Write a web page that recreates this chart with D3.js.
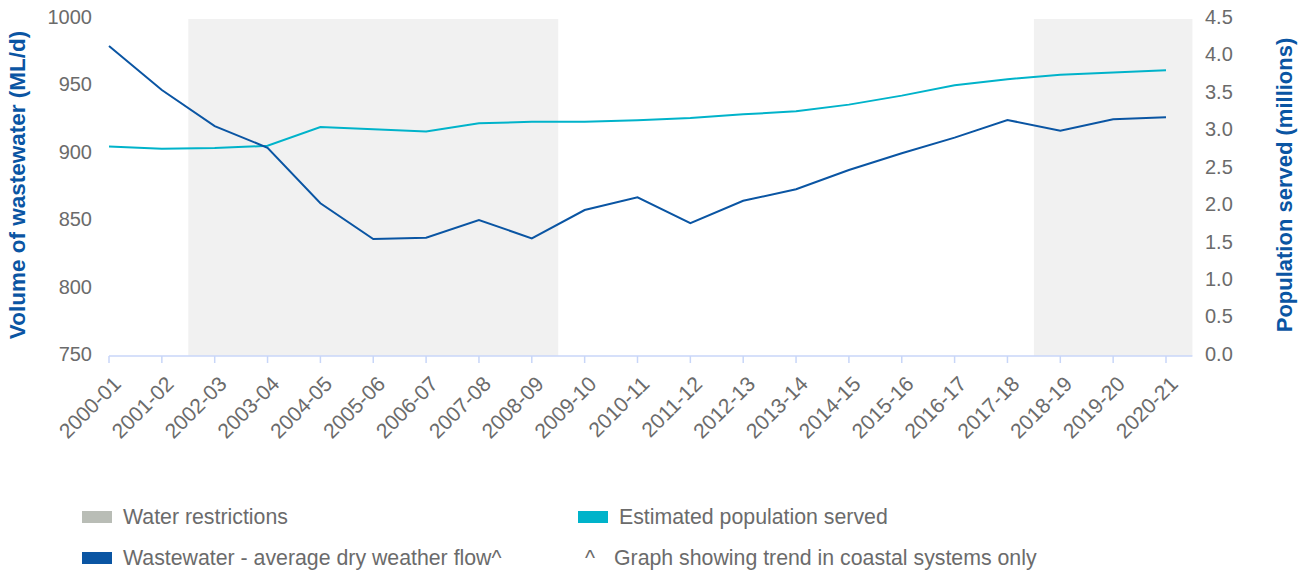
<!DOCTYPE html>
<html>
<head>
<meta charset="utf-8">
<script src="https://cdn.jsdelivr.net/npm/d3@7"></script>
<style>
  body { margin: 0; background: #fff; }
  text { font-family: "Liberation Sans", Arial, sans-serif; }
</style>
</head>
<body>
<div id="chart"></div>
<script>
// Financial years on the x axis
const years = ["2000-01", "2001-02", "2002-03", "2003-04", "2004-05", "2005-06", "2006-07",
  "2007-08", "2008-09", "2009-10", "2010-11", "2011-12", "2012-13", "2013-14", "2014-15",
  "2015-16", "2016-17", "2017-18", "2018-19", "2019-20", "2020-21"];

// Wastewater - average dry weather flow (ML/d)
const wastewater = [978.5, 945.8, 919.1, 903, 861.8, 835.3, 836.3, 849.4, 835.8, 856.8, 866.2,
  847, 863.7, 872.2, 886.5, 898.9, 910.5, 923.6, 915.7, 924.1, 925.6];

// Estimated population served (millions)
const population = [2.77, 2.74, 2.75, 2.78, 3.03, 3.00, 2.97, 3.08, 3.10, 3.10, 3.12, 3.15,
  3.20, 3.24, 3.33, 3.45, 3.59, 3.67, 3.73, 3.76, 3.79];

// Periods with water restrictions (first and last year of each)
const restrictions = [["2002-03", "2008-09"], ["2018-19", "2020-21"]];

const leftTicks = [750, 800, 850, 900, 950, 1000];
const rightTicks = [0, 0.5, 1, 1.5, 2, 2.5, 3, 3.5, 4, 4.5];

const width = 1306, height = 574;
const x0 = 109, step = (1166 - 109) / (years.length - 1);

const svg = d3.select("#chart").append("svg")
  .attr("width", width)
  .attr("height", height);

// Point scale for the categories
const x = d3.scalePoint()
  .domain(years)
  .range([x0, x0 + step * (years.length - 1)]);

const yLeft = d3.scaleLinear().domain([750, 1000]).range([354, 17]);
const yRight = d3.scaleLinear().domain([0, 4.5]).range([354, 17]);

// Shaded restriction bands
svg.selectAll(".band")
  .data(restrictions)
  .enter().append("rect")
  .attr("class", "band")
  .attr("x", d => x(d[0]) - step / 2)
  .attr("y", 19)
  .attr("width", d => x(d[1]) - x(d[0]) + step)
  .attr("height", 356 - 19)
  .attr("fill", "#f1f1f1");

// Bottom axis
const xAxis = svg.append("g")
  .attr("transform", "translate(0,356)");
xAxis.append("line")
  .attr("x1", x0).attr("x2", x(years[years.length - 1]) + step / 2)
  .attr("stroke", "#c8d6f8").attr("stroke-width", 1.5);
xAxis.selectAll(".tick")
  .data(years)
  .enter().append("line")
  .attr("x1", d => x(d)).attr("x2", d => x(d))
  .attr("y1", 0).attr("y2", 7)
  .attr("stroke", "#c8d6f8").attr("stroke-width", 1.5);
xAxis.selectAll(".xlabel")
  .data(years)
  .enter().append("text")
  .attr("class", "xlabel")
  .attr("transform", d => "translate(" + (x(d) + 8) + ",24) rotate(-45)")
  .attr("text-anchor", "end")
  .attr("dy", "0.35em")
  .attr("font-size", 21)
  .attr("fill", "#6b6b6b")
  .text(d => d);

// Left axis labels
svg.append("g")
  .attr("transform", "translate(92,0)")
  .call(d3.axisLeft(yLeft).tickValues(leftTicks).tickSize(0).tickPadding(0)
    .tickFormat(d3.format("d")))
  .call(g => g.select(".domain").remove())
  .call(g => g.selectAll("text")
    .attr("font-size", 20)
    .attr("font-family", "Liberation Sans, Arial, sans-serif")
    .attr("fill", "#6b6b6b"));

// Right axis labels
svg.append("g")
  .attr("transform", "translate(1205,0)")
  .call(d3.axisRight(yRight).tickValues(rightTicks).tickSize(0).tickPadding(0)
    .tickFormat(d3.format(".1f")))
  .call(g => g.select(".domain").remove())
  .call(g => g.selectAll("text")
    .attr("font-size", 20)
    .attr("font-family", "Liberation Sans, Arial, sans-serif")
    .attr("fill", "#6b6b6b"));

// Axis titles
svg.append("text")
  .attr("transform", "translate(17,185) rotate(-90)")
  .attr("text-anchor", "middle")
  .attr("dy", "0.35em")
  .attr("font-family", "Open Sans, sans-serif")
  .attr("font-weight", "bold")
  .attr("font-size", 22.5)
  .attr("fill", "#0a55a3")
  .text("Volume of wastewater (ML/d)");

svg.append("text")
  .attr("transform", "translate(1284,185) rotate(-90)")
  .attr("text-anchor", "middle")
  .attr("dy", "0.35em")
  .attr("font-family", "Open Sans, sans-serif")
  .attr("font-weight", "bold")
  .attr("font-size", 22)
  .attr("fill", "#0a55a3")
  .text("Population served (millions)");

// Lines
const popLine = d3.line()
  .x((d, i) => x(years[i]))
  .y(d => yRight(d));
const wwLine = d3.line()
  .x((d, i) => x(years[i]))
  .y(d => yLeft(d));

svg.append("path")
  .datum(population)
  .attr("d", popLine)
  .attr("fill", "none")
  .attr("stroke", "#00b3ca")
  .attr("stroke-width", 2);

svg.append("path")
  .datum(wastewater)
  .attr("d", wwLine)
  .attr("fill", "none")
  .attr("stroke", "#0a55a3")
  .attr("stroke-width", 2);

// Legend
const legendItems = [
  { label: "Water restrictions", color: "#b9bdb6", x: 82, y: 517 },
  { label: "Estimated population served", color: "#00b3ca", x: 578, y: 517 },
  { label: "Wastewater - average dry weather flow^", color: "#0a55a3", x: 82, y: 558 }
];
const legend = svg.append("g");
legend.selectAll("rect")
  .data(legendItems)
  .enter().append("rect")
  .attr("x", d => d.x).attr("y", d => d.y - 6)
  .attr("width", 30).attr("height", 12)
  .attr("fill", d => d.color);
legend.selectAll("text")
  .data(legendItems)
  .enter().append("text")
  .attr("x", d => d.x + 41).attr("y", d => d.y)
  .attr("dy", "0.35em")
  .attr("font-size", 21.3)
  .attr("fill", "#6b6b6b")
  .text(d => d.label);
legend.append("text")
  .attr("x", 585).attr("y", 558)
  .attr("dy", "0.35em")
  .attr("font-size", 21.3)
  .attr("fill", "#6b6b6b")
  .text("^");
legend.append("text")
  .attr("x", 614).attr("y", 558)
  .attr("dy", "0.35em")
  .attr("font-size", 21.3)
  .attr("fill", "#6b6b6b")
  .text("Graph showing trend in coastal systems only");
</script>
</body>
</html>
